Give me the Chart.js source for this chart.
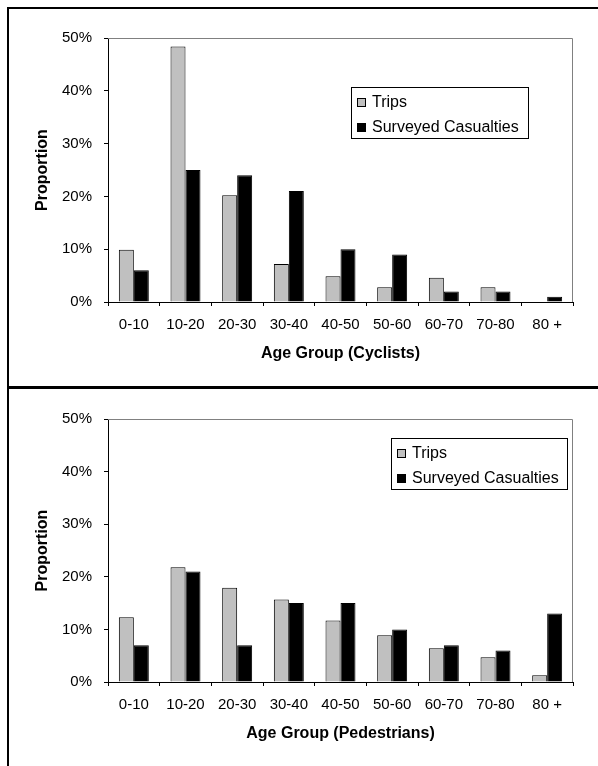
<!DOCTYPE html>
<html>
<head>
<meta charset="utf-8">
<script src="https://cdn.jsdelivr.net/npm/chart.js@4.4.1/dist/chart.umd.min.js"></script>
<style>
  html, body { margin: 0; padding: 0; background: #fff; overflow: hidden; }
  body { width: 598px; height: 766px; position: relative; }
  #frame { position: absolute; left: 7px; top: 7px; width: 800px; height: 900px; border: 2px solid #000; box-sizing: border-box; }
  #divider { position: absolute; left: 7px; top: 386px; width: 800px; height: 3px; background: #000; }
  .box { position: absolute; left: 9px; width: 589px; height: 377px; }
  #box1 { top: 9px; }
  #box2 { top: 389px; }
</style>
</head>
<body>
<div id="frame"></div>
<div id="divider"></div>
<div class="box" id="box1"><canvas id="cyclists"></canvas></div>
<div class="box" id="box2"><canvas id="pedestrians"></canvas></div>
<script>
// age bands on the x axis
const ageGroups = ['0-10', '10-20', '20-30', '30-40', '40-50', '50-60', '60-70', '70-80', '80 +'];

// values in percent
const cyclistTrips = [9.9, 48.4, 20.2, 7.2, 4.9, 2.8, 4.6, 2.8, 0];
const cyclistCasualties = [6, 25, 24, 21, 10, 9, 2, 2, 1];
const pedestrianTrips = [12.3, 21.8, 17.9, 15.7, 11.7, 8.9, 6.4, 4.7, 1.3];
const pedestrianCasualties = [7, 21, 7, 15, 15, 10, 7, 6, 13];

const yTicks = [0, 10, 20, 30, 40, 50];

Chart.defaults.font.family = 'Arial, "Liberation Sans", sans-serif';
Chart.defaults.color = '#000';

// gray top/right edge of the plot area
const plotFrame = {
    id: 'plotFrame',
    beforeDatasetsDraw(chart) {
        const { ctx, chartArea: a } = chart;
        ctx.save();
        ctx.strokeStyle = '#808080';
        ctx.lineWidth = 1;
        ctx.beginPath();
        ctx.moveTo(a.left, a.top + 0.5);
        ctx.lineTo(a.right - 0.5, a.top + 0.5);
        ctx.lineTo(a.right - 0.5, a.bottom);
        ctx.stroke();
        ctx.restore();
    }
};

// boxed legend sitting inside the plot
const boxLegend = {
    id: 'boxLegend',
    afterDraw(chart, args, opts) {
        const ctx = chart.ctx;
        const { x, y, w, h } = opts;
        ctx.save();
        ctx.fillStyle = '#fff';
        ctx.fillRect(x, y, w, h);
        ctx.strokeStyle = '#000';
        ctx.lineWidth = 1;
        ctx.strokeRect(x + 0.5, y + 0.5, w, h);
        ctx.font = '16px Arial, "Liberation Sans", sans-serif';
        ctx.textBaseline = 'middle';
        chart.data.datasets.forEach((ds, i) => {
            const cy = Math.round(y + 15 + i * 25);
            ctx.fillStyle = ds.backgroundColor;
            ctx.fillRect(x + 6, cy - 4, 9, 9);
            ctx.strokeRect(x + 6.5, cy - 3.5, 8, 8);
            ctx.fillStyle = '#000';
            ctx.fillText(ds.label, x + 21, cy + 1);
        });
        ctx.restore();
    }
};

function makeChart(id, title, trips, casualties, legendPos, topPad) {
    return new Chart(document.getElementById(id), {
        type: 'bar',
        data: {
            labels: ageGroups,
            datasets: [
                { label: 'Trips', data: trips, backgroundColor: '#c0c0c0', borderColor: '#000', borderWidth: 1 },
                { label: 'Surveyed Casualties', data: casualties, backgroundColor: '#000', borderColor: '#000', borderWidth: 1 }
            ]
        },
        options: {
            responsive: true,
            maintainAspectRatio: false,
            animation: false,
            events: [],
            datasets: { bar: { barPercentage: 1, categoryPercentage: 0.58 } },
            layout: { padding: { top: topPad, right: 25, left: 0, bottom: 0 } },
            plugins: {
                legend: { display: false },
                tooltip: { enabled: false },
                boxLegend: legendPos
            },
            scales: {
                x: {
                    grid: { drawOnChartArea: false, tickLength: 4, color: '#000', offset: true },
                    border: { color: '#000' },
                    ticks: { font: { size: 15 }, padding: 10, maxRotation: 0, autoSkip: false },
                    title: { display: true, text: title, font: { size: 16, weight: 'bold' }, padding: { top: 0, bottom: 23 } },
                    afterFit(scale) { scale.height = 84; }
                },
                y: {
                    min: 0,
                    max: 50,
                    afterBuildTicks(scale) { scale.ticks = yTicks.map(v => ({ value: v })); },
                    ticks: { callback: v => v + '%', font: { size: 15 }, padding: 12 },
                    grid: { drawOnChartArea: false, tickLength: 4, color: '#000' },
                    border: { color: '#000' },
                    title: { display: true, text: 'Proportion', font: { size: 16, weight: 'bold' }, padding: { top: 24, bottom: 0 } },
                    afterFit(scale) { scale.width = 99; }
                }
            }
        },
        plugins: [plotFrame, boxLegend]
    });
}

makeChart('cyclists', 'Age Group (Cyclists)', cyclistTrips, cyclistCasualties, { x: 342, y: 78, w: 177, h: 51 }, 29);
makeChart('pedestrians', 'Age Group (Pedestrians)', pedestrianTrips, pedestrianCasualties, { x: 382, y: 49, w: 176, h: 51 }, 30);
</script>
</body>
</html>
